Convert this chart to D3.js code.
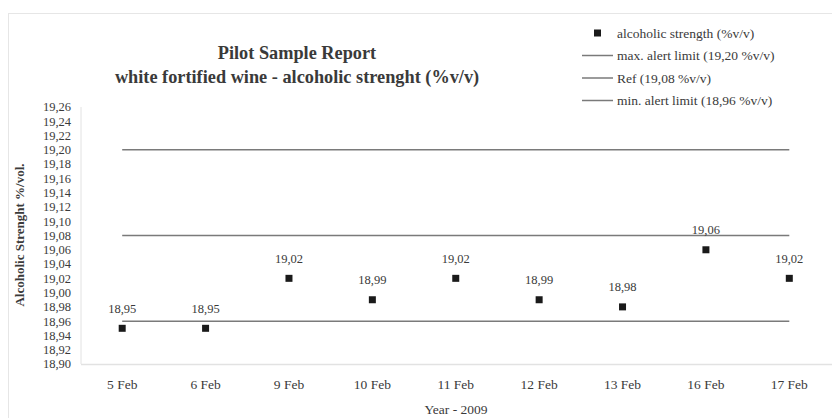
<!DOCTYPE html>
<html><head><meta charset="utf-8">
<script src="https://cdn.jsdelivr.net/npm/d3@7"></script>
<style>
body{margin:0;background:#fff;}
text{font-family:"Liberation Serif","Times New Roman",serif;fill:#3a3a3a;}
</style></head>
<body><svg id="c" width="832" height="418"></svg>
<script>
const categories = ["5 Feb","6 Feb","9 Feb","10 Feb","11 Feb","12 Feb","13 Feb","16 Feb","17 Feb"];
const strength = [18.95,18.95,19.02,18.99,19.02,18.99,18.98,19.06,19.02];
const maxLimit = 19.20;
const refValue = 19.08;
const minLimit = 18.96;
const yTicks = d3.range(0,19).map(i => +(18.90 + i*0.02).toFixed(2));
const legendItems = ["alcoholic strength (%v/v)","max. alert limit (19,20 %v/v)","Ref (19,08 %v/v)","min. alert limit (18,96 %v/v)"];

const svg = d3.select("#c");
const fmt = v => d3.format(".2f")(v).replace(".", ",");

// outer frame
svg.append("rect").attr("x",8.5).attr("y",13.5).attr("width",840).attr("height",420)
  .attr("fill","none").attr("stroke","#e6e6e6");

const x = d3.scaleBand().domain(categories).range([80.5, 831]);
const y = d3.scaleLinear().domain([18.90, 19.26]).range([364, 107]);

// axes lines
svg.append("line").attr("x1",81).attr("x2",81).attr("y1",y(19.26)).attr("y2",y(18.90)).attr("stroke","#e2e2e2");
svg.append("line").attr("x1",81).attr("x2",832).attr("y1",y(18.90)+0.5).attr("y2",y(18.90)+0.5).attr("stroke","#e2e2e2").attr("stroke-width",1.5);

// y tick labels
svg.append("g").selectAll("text").data(yTicks).join("text")
  .attr("x",71).attr("y",d=>y(d)).attr("dy","0.35em").attr("text-anchor","end")
  .attr("font-size",12.5).text(fmt);

// x tick labels
svg.append("g").selectAll("text").data(categories).join("text")
  .attr("x",d=>x(d)+x.bandwidth()/2).attr("y",384).attr("dy","0.35em").attr("text-anchor","middle")
  .attr("font-size",13.5).text(d=>d);

// limit lines
const xFirst = x(categories[0])+x.bandwidth()/2, xLast = x(categories[categories.length-1])+x.bandwidth()/2;
[maxLimit, refValue, minLimit].forEach(v=>{
  svg.append("line").attr("x1",xFirst).attr("x2",xLast).attr("y1",y(v)).attr("y2",y(v))
    .attr("stroke","#7a7a7a").attr("stroke-width",1.5);
});

// points
svg.append("g").selectAll("rect").data(strength).join("rect")
  .attr("x",(d,i)=>x(categories[i])+x.bandwidth()/2-3.5).attr("y",d=>y(d)-3.5)
  .attr("width",7).attr("height",7).attr("fill","#1a1a1a");
svg.append("g").selectAll("text").data(strength).join("text")
  .attr("x",(d,i)=>x(categories[i])+x.bandwidth()/2).attr("y",d=>y(d)-20).attr("dy","0.35em")
  .attr("text-anchor","middle").attr("font-size",12.5).text(fmt);

// titles
svg.append("text").attr("x",297).attr("y",59).attr("text-anchor","middle").attr("font-size",18.3).attr("font-weight","bold").text("Pilot Sample Report");
svg.append("text").attr("x",297).attr("y",83).attr("text-anchor","middle").attr("font-size",18.3).attr("font-weight","bold").text("white fortified  wine -  alcoholic strenght (%v/v)");
svg.append("text").attr("transform","translate(19,235) rotate(-90)").attr("dy","0.35em").attr("text-anchor","middle").attr("font-size",13).attr("font-weight","bold").text("Alcoholic Strenght %/vol.");
svg.append("text").attr("x",456).attr("y",409).attr("dy","0.35em").attr("text-anchor","middle").attr("font-size",13.5).text("Year - 2009");

// legend
const lg = svg.append("g");
legendItems.forEach((t,i)=>{
  const ly = 33 + i*22.5;
  if(i===0){
    lg.append("rect").attr("x",594).attr("y",ly-3.5).attr("width",7).attr("height",7).attr("fill","#1a1a1a");
  } else {
    lg.append("line").attr("x1",582).attr("x2",613).attr("y1",ly).attr("y2",ly).attr("stroke","#7a7a7a").attr("stroke-width",1.5);
  }
  lg.append("text").attr("x",617).attr("y",ly).attr("dy","0.35em").attr("font-size",13.5).text(t);
});
</script></body></html>
